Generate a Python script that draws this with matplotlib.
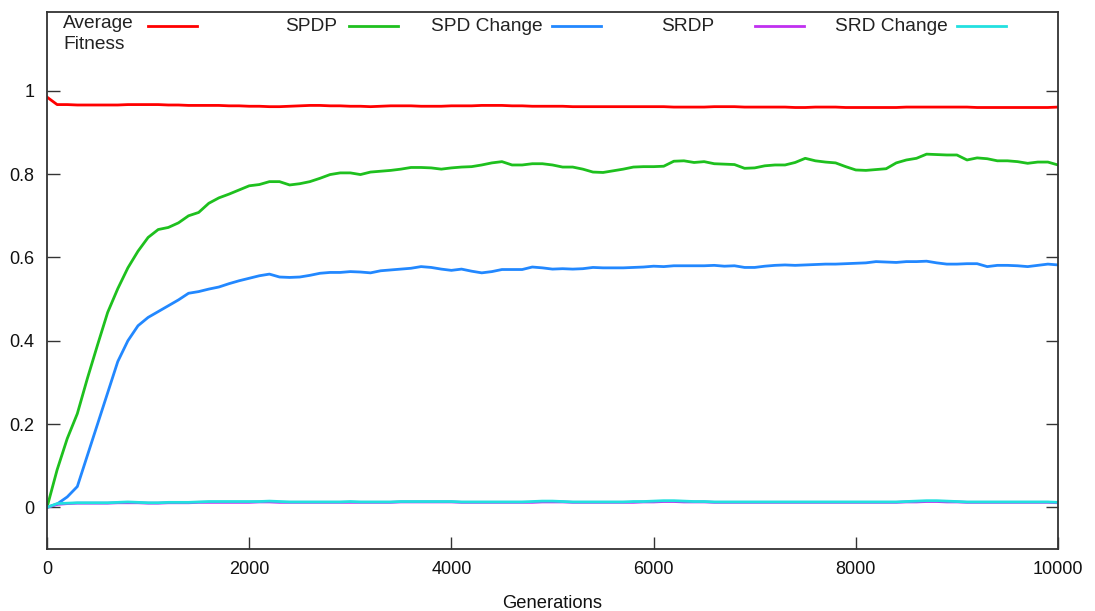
import numpy as np
import matplotlib
matplotlib.use("Agg")
import matplotlib.pyplot as plt
from matplotlib.lines import Line2D

plt.rcParams['font.family'] = ['Liberation Sans', 'DejaVu Sans']

# Generations sampled every 100 steps
generations = np.arange(0, 10001, 100)

avg_fitness = [
    0.985, 0.967, 0.967, 0.966, 0.966, 0.966, 0.966, 0.966, 0.967, 0.967,
    0.967, 0.967, 0.966, 0.966, 0.965, 0.965, 0.965, 0.965, 0.964, 0.964,
    0.963, 0.963, 0.962, 0.962, 0.963, 0.964, 0.965, 0.965, 0.964, 0.964,
    0.963, 0.963, 0.962, 0.963, 0.964, 0.964, 0.964, 0.963, 0.963, 0.963,
    0.964, 0.964, 0.964, 0.965, 0.965, 0.965, 0.964, 0.964, 0.963, 0.963,
    0.963, 0.963, 0.962, 0.962, 0.962, 0.962, 0.962, 0.962, 0.962, 0.962,
    0.962, 0.962, 0.961, 0.961, 0.961, 0.961, 0.962, 0.962, 0.962, 0.961,
    0.961, 0.961, 0.961, 0.961, 0.960, 0.960, 0.961, 0.961, 0.961, 0.960,
    0.960, 0.960, 0.960, 0.960, 0.960, 0.961, 0.961, 0.961, 0.961, 0.961,
    0.961, 0.961, 0.960, 0.960, 0.960, 0.960, 0.960, 0.960, 0.960, 0.960,
    0.961,
]

spdp = [
    0.000, 0.090, 0.165, 0.225, 0.310, 0.390, 0.468, 0.525, 0.575, 0.615,
    0.648, 0.667, 0.672, 0.683, 0.700, 0.708, 0.730, 0.743, 0.752, 0.762,
    0.772, 0.775, 0.782, 0.782, 0.774, 0.777, 0.782, 0.790, 0.799, 0.803,
    0.803, 0.799, 0.805, 0.807, 0.809, 0.812, 0.816, 0.816, 0.815, 0.812,
    0.815, 0.817, 0.818, 0.822, 0.827, 0.830, 0.822, 0.822, 0.825, 0.825,
    0.822, 0.817, 0.817, 0.812, 0.805, 0.804, 0.808, 0.812, 0.817, 0.818,
    0.818, 0.819, 0.831, 0.832, 0.828, 0.830, 0.825, 0.824, 0.823, 0.814,
    0.815, 0.820, 0.822, 0.822, 0.828, 0.838, 0.832, 0.829, 0.827, 0.818,
    0.810, 0.809, 0.811, 0.813, 0.827, 0.834, 0.838, 0.848, 0.847, 0.846,
    0.846, 0.834, 0.839, 0.837, 0.832, 0.832, 0.830, 0.826, 0.829, 0.829,
    0.822,
]

spd_change = [
    0.000, 0.008, 0.025, 0.050, 0.125, 0.200, 0.275, 0.350, 0.400, 0.436,
    0.456, 0.470, 0.484, 0.498, 0.514, 0.518, 0.524, 0.529, 0.537, 0.544,
    0.550, 0.556, 0.560, 0.553, 0.552, 0.553, 0.557, 0.562, 0.564, 0.564,
    0.566, 0.565, 0.563, 0.568, 0.570, 0.572, 0.574, 0.578, 0.576, 0.572,
    0.569, 0.572, 0.567, 0.563, 0.566, 0.571, 0.571, 0.571, 0.577, 0.575,
    0.572, 0.573, 0.572, 0.573, 0.576, 0.575, 0.575, 0.575, 0.576, 0.577,
    0.579, 0.578, 0.580, 0.580, 0.580, 0.580, 0.581, 0.579, 0.580, 0.576,
    0.576, 0.579, 0.581, 0.582, 0.581, 0.582, 0.583, 0.584, 0.584, 0.585,
    0.586, 0.587, 0.590, 0.589, 0.588, 0.590, 0.590, 0.591, 0.587, 0.584,
    0.584, 0.585, 0.585, 0.578, 0.581, 0.581, 0.580, 0.578, 0.581, 0.584,
    0.582,
]

srdp = [
    0.000, 0.007, 0.009, 0.010, 0.010, 0.010, 0.010, 0.011, 0.011, 0.011,
    0.010, 0.010, 0.011, 0.011, 0.011, 0.012, 0.012, 0.012, 0.012, 0.012,
    0.012, 0.013, 0.013, 0.012, 0.012, 0.012, 0.012, 0.012, 0.012, 0.012,
    0.012, 0.012, 0.012, 0.012, 0.012, 0.013, 0.013, 0.013, 0.013, 0.013,
    0.013, 0.012, 0.012, 0.012, 0.012, 0.012, 0.012, 0.012, 0.012, 0.013,
    0.013, 0.013, 0.012, 0.012, 0.012, 0.012, 0.012, 0.012, 0.012, 0.013,
    0.013, 0.014, 0.014, 0.013, 0.013, 0.013, 0.012, 0.012, 0.012, 0.012,
    0.012, 0.012, 0.012, 0.012, 0.012, 0.012, 0.012, 0.012, 0.012, 0.012,
    0.012, 0.012, 0.012, 0.012, 0.012, 0.013, 0.013, 0.014, 0.014, 0.013,
    0.013, 0.012, 0.012, 0.012, 0.012, 0.012, 0.012, 0.012, 0.012, 0.012,
    0.011,
]

srd_change = [
    0.000, 0.009, 0.010, 0.011, 0.011, 0.011, 0.011, 0.012, 0.013, 0.012,
    0.011, 0.011, 0.012, 0.012, 0.012, 0.013, 0.014, 0.014, 0.014, 0.014,
    0.014, 0.014, 0.015, 0.014, 0.013, 0.013, 0.013, 0.013, 0.013, 0.013,
    0.014, 0.013, 0.013, 0.013, 0.013, 0.014, 0.014, 0.014, 0.014, 0.014,
    0.014, 0.013, 0.013, 0.013, 0.013, 0.013, 0.013, 0.013, 0.014, 0.015,
    0.015, 0.014, 0.013, 0.013, 0.013, 0.013, 0.013, 0.013, 0.014, 0.014,
    0.015, 0.016, 0.016, 0.015, 0.014, 0.014, 0.013, 0.013, 0.013, 0.013,
    0.013, 0.013, 0.013, 0.013, 0.013, 0.013, 0.013, 0.013, 0.013, 0.013,
    0.013, 0.013, 0.013, 0.013, 0.013, 0.014, 0.015, 0.016, 0.016, 0.015,
    0.014, 0.013, 0.013, 0.013, 0.013, 0.013, 0.013, 0.013, 0.013, 0.013,
    0.012,
]

labels = ["Average\nFitness", "SPDP", "SPD Change", "SRDP", "SRD Change"]
colors = ["#ff0000", "#1ec01e", "#2288ff", "#c030f0", "#22e0e0"]
series = [avg_fitness, spdp, spd_change, srdp, srd_change]

fig = plt.figure(figsize=(10.95, 6.11), dpi=100)
ax = fig.add_axes([47 / 1095, 1 - 549 / 611, 1011 / 1095, (549 - 11.7) / 611])

lw = 2.0
for vals, col in zip(series, colors):
    ax.plot(generations, vals, color=col, lw=lw, solid_joinstyle='round')

ax.set_xlim(0, 10000)
ax.set_ylim(-0.1, 1.19)
ax.set_xticks([0, 2000, 4000, 6000, 8000, 10000])
ax.set_yticks([0, 0.2, 0.4, 0.6, 0.8, 1.0])
ax.set_yticklabels(["0", "0.2", "0.4", "0.6", "0.8", "1"])
ax.tick_params(direction='in', length=9, width=1.0, color='#333333',
               labelsize=13, pad=9, right=True, top=False, labelcolor='#111111')
for sp in ax.spines.values():
    sp.set_color('#333333')
    sp.set_linewidth(1.3)

ax.set_xlabel("Generations", fontsize=13.2, labelpad=12, color='#111111')

# Key across the top of the plot: label text then a sample line
key_y = 0.973
line_spans = [(0.0999, 0.1484), (0.2987, 0.3472), (0.4995, 0.5480),
              (0.7003, 0.7488), (0.9000, 0.9486)]
text_right = [None, 0.2868, 0.4906, 0.6597, 0.8910]
for i, (lab, col) in enumerate(zip(labels, colors)):
    x0, x1 = line_spans[i]
    ax.add_line(Line2D([x0, x1], [key_y, key_y], transform=ax.transAxes,
                       color=col, lw=lw, clip_on=False))
    if text_right[i] is None:
        ax.text(0.0158, 0.959, lab, transform=ax.transAxes, ha='left',
                va='center', fontsize=13.8, linespacing=1.3, color='#222222')
    else:
        ax.text(text_right[i], key_y, lab, transform=ax.transAxes, ha='right',
                va='center', fontsize=13.8, color='#222222')

fig.savefig("out.png", dpi=100)
